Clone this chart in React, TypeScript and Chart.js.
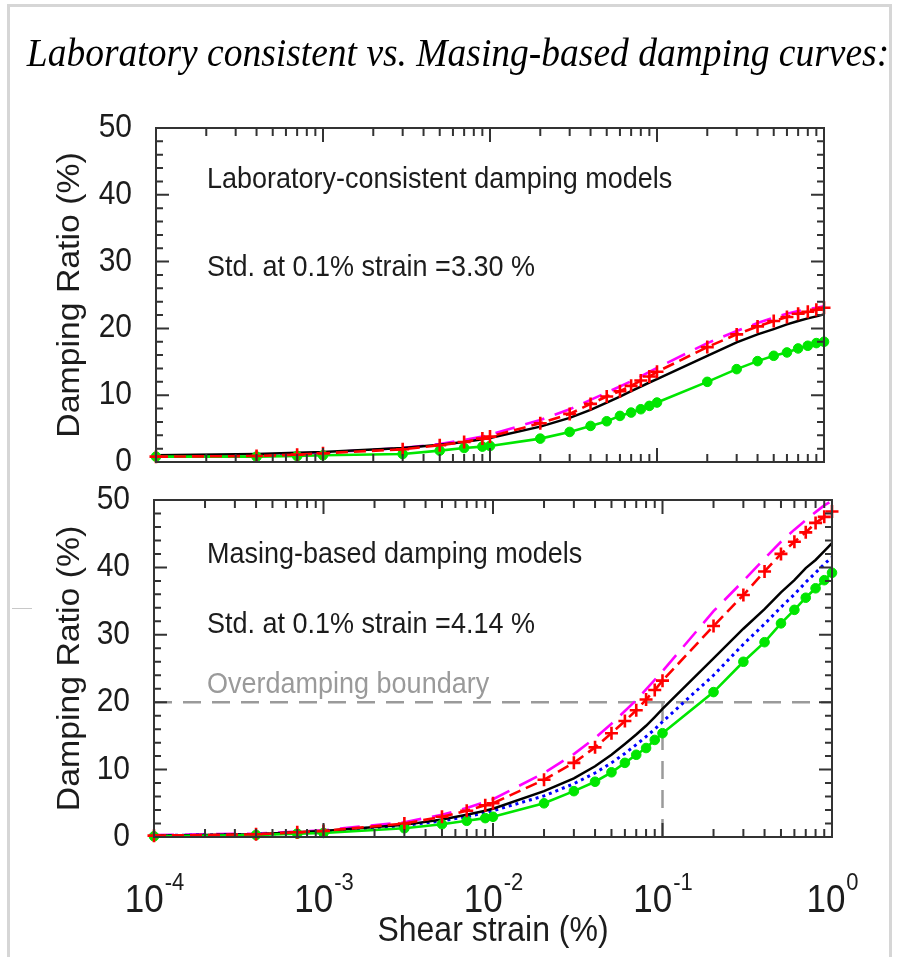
import React, { useEffect, useRef } from 'react';
import { Chart, registerables } from 'chart.js';

Chart.register(...registerables);

// Shear strain (%) at which every model curve is evaluated
const strain = [
  1e-4, 4e-4, 7e-4, 1e-3, 3e-3, 5e-3, 7e-3, 9e-3,
  1e-2, 2e-2, 3e-2, 4e-2, 5e-2, 6e-2, 7e-2, 8e-2, 9e-2,
  0.1, 0.2, 0.3, 0.4, 0.5, 0.6, 0.7, 0.8, 0.9, 1.0,
];

// Laboratory-consistent damping models, damping ratio (%)
const labMagenta = [0.9, 1.0, 1.2, 1.4, 2.1, 2.7, 3.3, 3.8, 4.1, 6.3, 7.9, 9.3, 10.4, 11.3, 12.1, 12.8, 13.5, 14.1, 17.8, 19.6, 20.8, 21.6, 22.2, 22.6, 22.9, 23.1, 23.3];
const labBlack = [1.0, 1.2, 1.4, 1.5, 2.1, 2.6, 3.0, 3.4, 3.6, 5.3, 6.6, 7.8, 8.9, 9.8, 10.6, 11.3, 11.9, 12.4, 15.9, 17.9, 19.1, 19.9, 20.6, 21.1, 21.5, 21.8, 22.1];
const labRed = [0.8, 0.9, 1.1, 1.3, 1.9, 2.5, 3.0, 3.5, 3.8, 5.8, 7.2, 8.7, 9.8, 10.6, 11.4, 12.2, 12.8, 13.5, 17.2, 19.1, 20.3, 21.1, 21.7, 22.2, 22.5, 22.8, 23.1];
const labGreen = [0.8, 0.8, 0.9, 1.0, 1.2, 1.7, 2.1, 2.3, 2.4, 3.5, 4.5, 5.4, 6.1, 6.9, 7.4, 7.9, 8.4, 8.9, 12.0, 13.9, 15.1, 15.9, 16.4, 17.0, 17.4, 17.8, 18.0];

// Masing-based damping models, damping ratio (%)
const masMagenta = [0.3, 0.5, 0.8, 1.0, 2.2, 3.3, 4.3, 5.2, 5.6, 9.5, 12.3, 14.7, 16.8, 18.7, 20.3, 21.9, 23.3, 24.6, 33.5, 38.0, 41.3, 43.8, 45.6, 47.0, 48.2, 49.2, 49.9];
const masBlack = [0.2, 0.4, 0.7, 0.9, 1.8, 2.6, 3.3, 3.9, 4.2, 6.8, 8.7, 10.5, 12.2, 13.8, 15.2, 16.5, 17.8, 19.0, 26.5, 30.9, 33.8, 36.3, 38.1, 39.9, 41.1, 42.4, 43.6];
const masBlue = [0.2, 0.4, 0.6, 0.8, 1.7, 2.4, 3.0, 3.6, 3.9, 6.1, 7.9, 9.5, 11.0, 12.4, 13.7, 14.9, 16.0, 17.1, 24.0, 28.6, 31.6, 34.1, 36.0, 37.8, 39.2, 40.5, 41.5];
const masRed = [0.2, 0.4, 0.7, 0.9, 2.0, 3.0, 3.9, 4.7, 5.0, 8.5, 11.0, 13.3, 15.4, 17.2, 18.8, 20.4, 21.8, 23.2, 31.3, 35.9, 39.4, 42.0, 43.8, 45.2, 46.6, 47.5, 48.3];
const masGreen = [0.1, 0.3, 0.5, 0.6, 1.3, 1.9, 2.4, 2.8, 3.0, 5.0, 6.8, 8.2, 9.6, 11.0, 12.2, 13.2, 14.4, 15.4, 21.5, 26.0, 28.9, 31.7, 33.7, 35.5, 36.9, 38.1, 39.2];

// Overdamping boundary guides
const boundaryStrain = [1e-4, 1];
const boundaryRatio = [20, 20];
const markStrain = [0.1, 0.1];
const markRatio = [0, 20];

// Axis ticks
const yTickValues = [0, 10, 20, 30, 40, 50];
const yTickLabels = ['0', '10', '20', '30', '40', '50'];
const xDecades = [-4, -3, -2, -1, 0];
const xTickLabels = ['-4', '-3', '-2', '-1', '0'];

const TITLE = 'Laboratory consistent vs. Masing-based damping curves:';
const Y_TITLE = 'Damping Ratio (%)';
const X_TITLE = 'Shear strain (%)';
const LAB_NOTES = ['Laboratory-consistent damping models', 'Std. at 0.1% strain =3.30 %'];
const MAS_NOTES = ['Masing-based damping models', 'Std. at 0.1% strain =4.14 %', 'Overdamping boundary'];

const SANS = '"Liberation Sans", Arial, Helvetica, sans-serif';
const SERIF = '"Liberation Serif", "Times New Roman", serif';
const INK = '#1c1c1c';
const AXIS = '#333333';
const STRETCH = 1.09;

type TextOpts = { family?: string; italic?: boolean; rotate?: boolean };

function drawText(
  ctx: CanvasRenderingContext2D, s: string, x: number, y: number, size: number,
  color: string, align: CanvasTextAlign, baseline: CanvasTextBaseline, opts: TextOpts = {},
) {
  ctx.save();
  ctx.translate(x, y);
  if (opts.rotate) {
    ctx.rotate(-Math.PI / 2);
    ctx.scale(STRETCH, 1);
  } else {
    ctx.scale(1, STRETCH);
  }
  ctx.font = `${opts.italic ? 'italic ' : ''}${size}px ${opts.family ?? SANS}`;
  ctx.fillStyle = color;
  ctx.textAlign = align;
  ctx.textBaseline = baseline;
  ctx.fillText(s, 0, 0);
  ctx.restore();
}

function drawBoxAndTicks(chart: any) {
  const { ctx, chartArea: a } = chart;
  const xs = chart.scales.x;
  const ys = chart.scales.y;
  ctx.save();
  ctx.strokeStyle = AXIS;
  ctx.lineWidth = 2;
  ctx.beginPath();
  xDecades.forEach((d) => {
    for (let m = 1; m <= 9; m++) {
      const v = m * Math.pow(10, d);
      if (v > 1.000001) break;
      const px = xs.getPixelForValue(v);
      const len = m === 1 ? 14 : 8;
      ctx.moveTo(px, a.bottom);
      ctx.lineTo(px, a.bottom - len);
      ctx.moveTo(px, a.top);
      ctx.lineTo(px, a.top + len);
    }
  });
  for (let v = 0; v <= 50; v += 2) {
    const py = ys.getPixelForValue(v);
    const len = v % 10 === 0 ? 13 : 7;
    ctx.moveTo(a.left, py);
    ctx.lineTo(a.left + len, py);
    ctx.moveTo(a.right, py);
    ctx.lineTo(a.right - len, py);
  }
  ctx.stroke();
  ctx.strokeRect(a.left, a.top, a.right - a.left, a.bottom - a.top);
  ctx.restore();

  yTickValues.forEach((v, i) => {
    drawText(ctx, yTickLabels[i], a.left - 24, ys.getPixelForValue(v), 30, INK, 'right', 'middle');
  });
  drawText(ctx, Y_TITLE, 79, (a.top + a.bottom) / 2, 31, INK, 'center', 'alphabetic', { rotate: true });
}

const labPlugin = {
  id: 'labPanel',
  afterDatasetsDraw(chart: any) {
    const { ctx, chartArea: a } = chart;
    drawBoxAndTicks(chart);
    drawText(ctx, LAB_NOTES[0], a.left + 51, a.top + 60, 27, INK, 'left', 'alphabetic');
    drawText(ctx, LAB_NOTES[1], a.left + 51, a.top + 148, 27, INK, 'left', 'alphabetic');
    drawText(ctx, TITLE, 458, 66, 37.5, '#000', 'center', 'alphabetic', { family: SERIF, italic: true });
  },
};

const masPlugin = {
  id: 'masPanel',
  afterDatasetsDraw(chart: any) {
    const { ctx, chartArea: a } = chart;
    const xs = chart.scales.x;
    drawBoxAndTicks(chart);
    drawText(ctx, MAS_NOTES[0], a.left + 53, a.top + 63, 27, INK, 'left', 'alphabetic');
    drawText(ctx, MAS_NOTES[1], a.left + 53, a.top + 133, 27, INK, 'left', 'alphabetic');
    drawText(ctx, MAS_NOTES[2], a.left + 53, a.top + 193, 27, '#9a9a9a', 'left', 'alphabetic');

    // decade labels 10^n
    xDecades.forEach((d, i) => {
      const px = xs.getPixelForValue(Math.pow(10, d));
      ctx.save();
      ctx.font = `35px ${SANS}`;
      const wBase = ctx.measureText('10').width;
      ctx.font = `22px ${SANS}`;
      const wExp = ctx.measureText(xTickLabels[i]).width;
      ctx.restore();
      const start = px - (wBase + wExp) / 2;
      drawText(ctx, '10', start, a.bottom + 75, 35, INK, 'left', 'alphabetic');
      drawText(ctx, xTickLabels[i], start + wBase + 1, a.bottom + 53, 22, INK, 'left', 'alphabetic');
    });
    drawText(ctx, X_TITLE, (a.left + a.right) / 2, a.bottom + 104, 32, INK, 'center', 'alphabetic');

    // outer frame
    ctx.save();
    ctx.strokeStyle = '#d6d6d6';
    ctx.lineWidth = 3;
    ctx.beginPath();
    ctx.moveTo(8.5, 970);
    ctx.lineTo(8.5, 5.5);
    ctx.lineTo(890.5, 5.5);
    ctx.lineTo(890.5, 970);
    ctx.stroke();
    ctx.strokeStyle = '#c8c8c8';
    ctx.lineWidth = 1;
    ctx.beginPath();
    ctx.moveTo(12, 608.5);
    ctx.lineTo(32, 608.5);
    ctx.stroke();
    ctx.restore();
  },
};

function pts(xs: number[], ys: number[]) {
  return xs.map((x, i) => ({ x, y: ys[i] }));
}

const magentaStyle = { borderColor: '#ff00ff', borderWidth: 2.6, borderDash: [20, 11], pointRadius: 0 };
const blackStyle = { borderColor: '#000000', borderWidth: 2.5, pointRadius: 0 };
const blueStyle = { borderColor: '#0000ff', borderWidth: 3, borderDash: [3, 4], pointRadius: 0 };
const redStyle = {
  borderColor: '#ff0000', borderWidth: 2.6, borderDash: [12, 6],
  pointStyle: 'cross', pointRadius: 6.5, pointBorderWidth: 2.6,
  pointBorderColor: '#ff0000', pointBackgroundColor: '#ff0000',
};
const greenStyle = {
  borderColor: '#00e600', backgroundColor: '#00e600', borderWidth: 2.6,
  pointStyle: 'circle', pointRadius: 4.8, pointBorderWidth: 1,
  pointBackgroundColor: '#00e600', pointBorderColor: '#00e600',
};
const guideStyle = { borderColor: '#9a9a9a', borderWidth: 2.5, borderDash: [18, 11], pointRadius: 0 };

const labDatasets = [
  { label: 'Model A', data: pts(strain, labRed), ...redStyle, order: 1 },
  { label: 'Model B', data: pts(strain, labGreen), ...greenStyle, order: 2 },
  { label: 'Model C', data: pts(strain, labBlack), ...blackStyle, order: 3 },
  { label: 'Model D', data: pts(strain, labMagenta), ...magentaStyle, order: 4 },
];

const masDatasets = [
  { label: 'Model A', data: pts(strain, masRed), ...redStyle, order: 1 },
  { label: 'Model B', data: pts(strain, masGreen), ...greenStyle, order: 2 },
  { label: 'Model C', data: pts(strain, masBlack), ...blackStyle, order: 3 },
  { label: 'Model E', data: pts(strain, masBlue), ...blueStyle, order: 4 },
  { label: 'Model D', data: pts(strain, masMagenta), ...magentaStyle, order: 5 },
  { label: 'Boundary', data: pts(boundaryStrain, boundaryRatio), ...guideStyle, order: 6 },
  { label: 'Reference strain', data: pts(markStrain, markRatio), ...guideStyle, order: 7 },
];

type PanelProps = {
  datasets: any[];
  padding: { left: number; right: number; top: number; bottom: number };
  plugin: any;
};

function Panel({ datasets, padding, plugin }: PanelProps) {
  const ref = useRef<HTMLCanvasElement>(null);
  useEffect(() => {
    const chart = new Chart(ref.current as HTMLCanvasElement, {
      type: 'line',
      data: { datasets: datasets.map((d) => ({ ...d, clip: 12 })) },
      options: {
        responsive: false,
        animation: false,
        devicePixelRatio: 1,
        layout: { padding },
        elements: { line: { tension: 0 } },
        plugins: { legend: { display: false }, tooltip: { enabled: false } },
        scales: {
          x: { type: 'logarithmic', min: 1e-4, max: 1, display: false },
          y: { type: 'linear', min: 0, max: 50, display: false },
        },
      } as any,
      plugins: [plugin],
    });
    return () => chart.destroy();
  }, []);
  return (
    <canvas
      ref={ref}
      width={899}
      height={957}
      style={{ position: 'absolute', left: 0, top: 0, width: 899, height: 957 }}
    />
  );
}

export default function App() {
  return (
    <div style={{ position: 'absolute', left: 0, top: 0, width: 899, height: 957, background: '#fff', overflow: 'hidden' }}>
      <Panel datasets={labDatasets} padding={{ left: 156, right: 75, top: 128, bottom: 495 }} plugin={labPlugin} />
      <Panel datasets={masDatasets} padding={{ left: 154, right: 67, top: 500, bottom: 120 }} plugin={masPlugin} />
    </div>
  );
}
